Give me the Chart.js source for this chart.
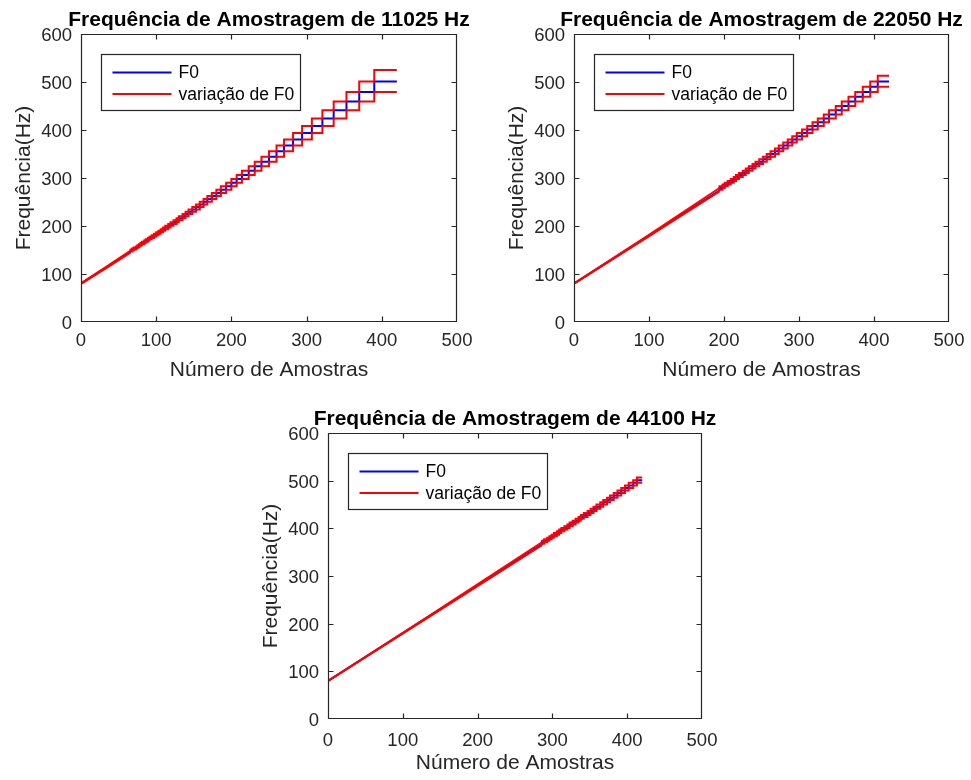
<!DOCTYPE html>
<html><head><meta charset="utf-8">
<script src="https://cdn.jsdelivr.net/npm/chart.js@4.4.1/dist/chart.umd.min.js"></script>
<style>
html,body{margin:0;padding:0;background:#fff;width:971px;height:780px;overflow:hidden;position:relative}
canvas{position:absolute}
</style></head><body>
<canvas id="c1" width="485" height="390" style="left:0;top:0"></canvas>
<canvas id="c2" width="481" height="390" style="left:490px;top:0"></canvas>
<canvas id="c3" width="490" height="385" style="left:240px;top:395px"></canvas>
<script>
// ---------- Data ----------
const titles = ['Frequência de Amostragem de 11025 Hz', 'Frequência de Amostragem de 22050 Hz', 'Frequência de Amostragem de 44100 Hz'];
const xLabel = 'Número de Amostras';
const yLabel = 'Frequência(Hz)';
const legendLabels = ['F0', 'variação de F0'];
const xTicks = [0, 100, 200, 300, 400, 500];
const yTicks = [0, 100, 200, 300, 400, 500, 600];

// 11025 Hz : initial (visually smooth) part
const amostrasIni11025 = [0, 33, 66];
const f0Ini11025 = [80, 113, 146];
const f0SupIni11025 = [80.6, 114.2, 149.0];
const f0InfIni11025 = [79.4, 111.8, 145.1];
// 11025 Hz : staircase part (sample where each step starts)
const amostras11025 = [66, 68, 70, 73, 75, 77, 79, 81, 84, 86, 89, 91, 94, 97, 100, 103, 106, 109, 112, 116, 119, 123, 127, 130, 135, 139, 143, 148, 153, 158, 163, 168, 174, 180, 186, 193, 200, 207, 214, 223, 231, 240, 250, 260, 270, 282, 294, 307, 321, 336, 353, 370, 390, 410, 420];
const f0_11025 = [147.0, 149.0, 151.0, 153.1, 155.3, 157.5, 159.8, 162.1, 164.6, 167.0, 169.6, 172.3, 175.0, 177.8, 180.7, 183.8, 186.9, 190.1, 193.4, 196.9, 200.5, 204.2, 208.0, 212.0, 216.2, 220.5, 225.0, 229.7, 234.6, 239.7, 245.0, 250.6, 256.4, 262.5, 268.9, 275.6, 282.7, 290.1, 298.0, 306.3, 315.0, 324.3, 334.1, 344.5, 355.6, 367.5, 380.2, 393.8, 408.3, 424.0, 441.0, 459.4, 479.3, 501.1, 501.1];
const f0Sup_11025 = [149.0, 151.0, 153.1, 155.3, 157.5, 159.8, 162.1, 164.6, 167.0, 169.6, 172.3, 175.0, 177.8, 180.7, 183.8, 186.9, 190.1, 193.4, 196.9, 200.5, 204.2, 208.0, 212.0, 216.2, 220.5, 225.0, 229.7, 234.6, 239.7, 245.0, 250.6, 256.4, 262.5, 268.9, 275.6, 282.7, 290.1, 298.0, 306.3, 315.0, 324.3, 334.1, 344.5, 355.6, 367.5, 380.2, 393.8, 408.3, 424.0, 441.0, 459.4, 479.3, 501.1, 525.0, 525.0];
const f0Inf_11025 = [145.1, 147.0, 149.0, 151.0, 153.1, 155.3, 157.5, 159.8, 162.1, 164.6, 167.0, 169.6, 172.3, 175.0, 177.8, 180.7, 183.8, 186.9, 190.1, 193.4, 196.9, 200.5, 204.2, 208.0, 212.0, 216.2, 220.5, 225.0, 229.7, 234.6, 239.7, 245.0, 250.6, 256.4, 262.5, 268.9, 275.6, 282.7, 290.1, 298.0, 306.3, 315.0, 324.3, 334.1, 344.5, 355.6, 367.5, 380.2, 393.8, 408.3, 424.0, 441.0, 459.4, 479.3, 479.3];

// 22050 Hz
const amostrasIni22050 = [0, 97, 194];
const f0Ini22050 = [80, 177, 274];
const f0SupIni22050 = [80.3, 178.4, 279.1];
const f0InfIni22050 = [79.7, 175.6, 272.2];
const amostras22050 = [194, 198, 201, 205, 209, 213, 216, 220, 225, 229, 233, 238, 242, 247, 252, 257, 262, 268, 273, 279, 285, 291, 297, 304, 311, 318, 325, 333, 340, 349, 357, 366, 375, 385, 395, 405, 416, 420];
const f0_22050 = [275.6, 279.1, 282.7, 286.4, 290.1, 294.0, 298.0, 302.1, 306.3, 310.6, 315.0, 319.6, 324.3, 329.1, 334.1, 339.2, 344.5, 350.0, 355.6, 361.5, 367.5, 373.7, 380.2, 386.8, 393.8, 400.9, 408.3, 416.0, 424.0, 432.4, 441.0, 450.0, 459.4, 469.1, 479.3, 490.0, 501.1, 501.1];
const f0Sup_22050 = [279.1, 282.7, 286.4, 290.1, 294.0, 298.0, 302.1, 306.3, 310.6, 315.0, 319.6, 324.3, 329.1, 334.1, 339.2, 344.5, 350.0, 355.6, 361.5, 367.5, 373.7, 380.2, 386.8, 393.8, 400.9, 408.3, 416.0, 424.0, 432.4, 441.0, 450.0, 459.4, 469.1, 479.3, 490.0, 501.1, 512.8, 512.8];
const f0Inf_22050 = [272.2, 275.6, 279.1, 282.7, 286.4, 290.1, 294.0, 298.0, 302.1, 306.3, 310.6, 315.0, 319.6, 324.3, 329.1, 334.1, 339.2, 344.5, 350.0, 355.6, 361.5, 367.5, 373.7, 380.2, 386.8, 393.8, 400.9, 408.3, 416.0, 424.0, 432.4, 441.0, 450.0, 459.4, 469.1, 479.3, 490.0, 490.0];

// 44100 Hz
const amostrasIni44100 = [0, 143, 286];
const f0Ini44100 = [80, 223, 366];
const f0SupIni44100 = [80.1, 224.1, 370.6];
const f0InfIni44100 = [79.9, 221.9, 364.5];
const amostras44100 = [286, 289, 293, 296, 299, 302, 306, 309, 312, 316, 320, 323, 327, 331, 335, 338, 342, 347, 351, 355, 359, 364, 368, 373, 377, 382, 387, 392, 397, 402, 408, 413, 419, 420];
const f0_44100 = [367.5, 370.6, 373.7, 376.9, 380.2, 383.5, 386.8, 390.3, 393.8, 397.3, 400.9, 404.6, 408.3, 412.1, 416.0, 420.0, 424.0, 428.2, 432.4, 436.6, 441.0, 445.5, 450.0, 454.6, 459.4, 464.2, 469.1, 474.2, 479.3, 484.6, 490.0, 495.5, 501.1, 501.1];
const f0Sup_44100 = [370.6, 373.7, 376.9, 380.2, 383.5, 386.8, 390.3, 393.8, 397.3, 400.9, 404.6, 408.3, 412.1, 416.0, 420.0, 424.0, 428.2, 432.4, 436.6, 441.0, 445.5, 450.0, 454.6, 459.4, 464.2, 469.1, 474.2, 479.3, 484.6, 490.0, 495.5, 501.1, 506.9, 506.9];
const f0Inf_44100 = [364.5, 367.5, 370.6, 373.7, 376.9, 380.2, 383.5, 386.8, 390.3, 393.8, 397.3, 400.9, 404.6, 408.3, 412.1, 416.0, 420.0, 424.0, 428.2, 432.4, 436.6, 441.0, 445.5, 450.0, 454.6, 459.4, 464.2, 469.1, 474.2, 479.3, 484.6, 490.0, 495.5, 495.5];

// ---------- Rendering ----------
const FONT = '"Liberation Sans", Arial, Helvetica, sans-serif';
Chart.defaults.font.family = FONT;
const BLUE = '#0000ff', RED = '#ff0000', AXC = '#262626';

const pts = (xs, ys) => xs.map((x, i) => ({x: x, y: ys[i]}));

const matlabAxes = {
  id: 'matlabAxes',
  afterDraw(chart, args, o) {
    const {ctx, chartArea: a} = chart;
    const xs = chart.scales.x, ys = chart.scales.y;
    ctx.save();
    ctx.strokeStyle = AXC; ctx.lineWidth = 1.2;
    const L = Math.round(a.left) + 0.5, R = Math.round(a.right) - 0.5;
    const T = Math.round(a.top) + 0.5, B = Math.round(a.bottom) - 0.5;
    ctx.beginPath();
    xs.ticks.forEach(t => {
      const p = Math.round(xs.getPixelForValue(t.value)) + 0.5;
      if (p > L + 2 && p < R - 2) { ctx.moveTo(p, B); ctx.lineTo(p, B - 5); ctx.moveTo(p, T); ctx.lineTo(p, T + 5); }
    });
    ys.ticks.forEach(t => {
      const p = Math.round(ys.getPixelForValue(t.value)) + 0.5;
      if (p > T + 2 && p < B - 2) { ctx.moveTo(L, p); ctx.lineTo(L + 5, p); ctx.moveTo(R, p); ctx.lineTo(R - 5, p); }
    });
    ctx.rect(L, T, R - L, B - T);
    ctx.stroke();
    // title
    ctx.fillStyle = '#000';
    ctx.font = 'bold 21px ' + FONT;
    ctx.textAlign = 'center'; ctx.textBaseline = 'alphabetic';
    ctx.fillText(o.text, (a.left + a.right) / 2, a.top - 8);
    // legend
    const lx = Math.round(a.left) + 20.5, ly = Math.round(a.top) + 20.5;
    ctx.fillStyle = '#fff'; ctx.fillRect(lx, ly, 199, 56);
    ctx.strokeStyle = AXC; ctx.lineWidth = 1.2; ctx.strokeRect(lx, ly, 199, 56);
    o.legend.forEach((lab, i) => {
      const ds = chart.data.datasets.find(d => d.label === lab);
      const yy = ly + 18 + i * 21.5;
      ctx.strokeStyle = ds.borderColor; ctx.lineWidth = 1.8;
      ctx.beginPath(); ctx.moveTo(lx + 11, yy); ctx.lineTo(lx + 70, yy); ctx.stroke();
      ctx.fillStyle = '#000'; ctx.font = '17.5px ' + FONT;
      ctx.textAlign = 'left'; ctx.textBaseline = 'middle';
      ctx.fillText(lab, lx + 77, yy + 1);
    });
    ctx.restore();
  }
};

function makeChart(id, c) {
  const lw = 2;
  const base = {pointRadius: 0, borderWidth: lw, fill: false, tension: 0};
  return new Chart(document.getElementById(id), {
    type: 'line',
    data: {
      datasets: [
        Object.assign({label: legendLabels[1], data: pts(c.xs, c.sup), borderColor: RED, stepped: 'after'}, base),
        Object.assign({label: legendLabels[1] + ' ', data: pts(c.xs, c.inf), borderColor: RED, stepped: 'after'}, base),
        Object.assign({label: 'sup-ini', data: pts(c.xi, c.supi), borderColor: RED}, base),
        Object.assign({label: 'inf-ini', data: pts(c.xi, c.infi), borderColor: RED}, base),
        Object.assign({label: legendLabels[0], data: pts(c.xs, c.f0), borderColor: BLUE, stepped: 'after'}, base),
        Object.assign({label: 'f0-ini', data: pts(c.xi, c.f0i), borderColor: BLUE}, base)
      ]
    },
    options: {
      responsive: false, animation: false, devicePixelRatio: 1, events: [],
      layout: {padding: c.pad},
      plugins: {legend: {display: false}, tooltip: {enabled: false}, title: {display: false},
        matlabAxes: {text: c.title, legend: legendLabels}},
      scales: {
        x: {
          type: 'linear', min: xTicks[0], max: xTicks[xTicks.length - 1],
          afterBuildTicks: s => { s.ticks = xTicks.map(v => ({value: v})); },
          grid: {display: false, drawTicks: false}, border: {display: false},
          ticks: {color: AXC, font: {size: 18.5}, padding: c.xTickPad, maxRotation: 0},
          title: {display: true, text: xLabel, color: AXC, font: {size: 21}, padding: {top: 0, bottom: c.xTitlePad}},
          afterFit: s => { s.height = c.xH; s.paddingLeft = 0; s.paddingRight = 0; }
        },
        y: {
          type: 'linear', min: yTicks[0], max: yTicks[yTicks.length - 1],
          afterBuildTicks: s => { s.ticks = yTicks.map(v => ({value: v})); },
          grid: {display: false, drawTicks: false}, border: {display: false},
          ticks: {color: AXC, font: {size: 18.5}, padding: 9, labelOffset: 2},
          title: {display: true, text: yLabel, color: AXC, font: {size: 21}, padding: {top: c.yTitlePad, bottom: 0}},
          afterFit: s => { s.width = c.yW; s.paddingTop = 0; s.paddingBottom = 0; }
        }
      }
    },
    plugins: [matlabAxes]
  });
}

makeChart('c1', {title: titles[0], xs: amostras11025, f0: f0_11025, sup: f0Sup_11025, inf: f0Inf_11025,
  xi: amostrasIni11025, f0i: f0Ini11025, supi: f0SupIni11025, infi: f0InfIni11025,
  pad: {top: 34, right: 28, left: 0, bottom: 0}, yW: 81, xH: 68, xTickPad: 8, xTitlePad: 7, yTitlePad: 12});
makeChart('c2', {title: titles[1], xs: amostras22050, f0: f0_22050, sup: f0Sup_22050, inf: f0Inf_22050,
  xi: amostrasIni22050, f0i: f0Ini22050, supi: f0SupIni22050, infi: f0InfIni22050,
  pad: {top: 34, right: 22, left: 0, bottom: 0}, yW: 84, xH: 68, xTickPad: 8, xTitlePad: 7, yTitlePad: 15});
makeChart('c3', {title: titles[2], xs: amostras44100, f0: f0_44100, sup: f0Sup_44100, inf: f0Inf_44100,
  xi: amostrasIni44100, f0i: f0Ini44100, supi: f0SupIni44100, infi: f0InfIni44100,
  pad: {top: 38, right: 28, left: 0, bottom: 0}, yW: 88, xH: 61, xTickPad: 11, xTitlePad: 4, yTitlePad: 19});
</script>
</body></html>
